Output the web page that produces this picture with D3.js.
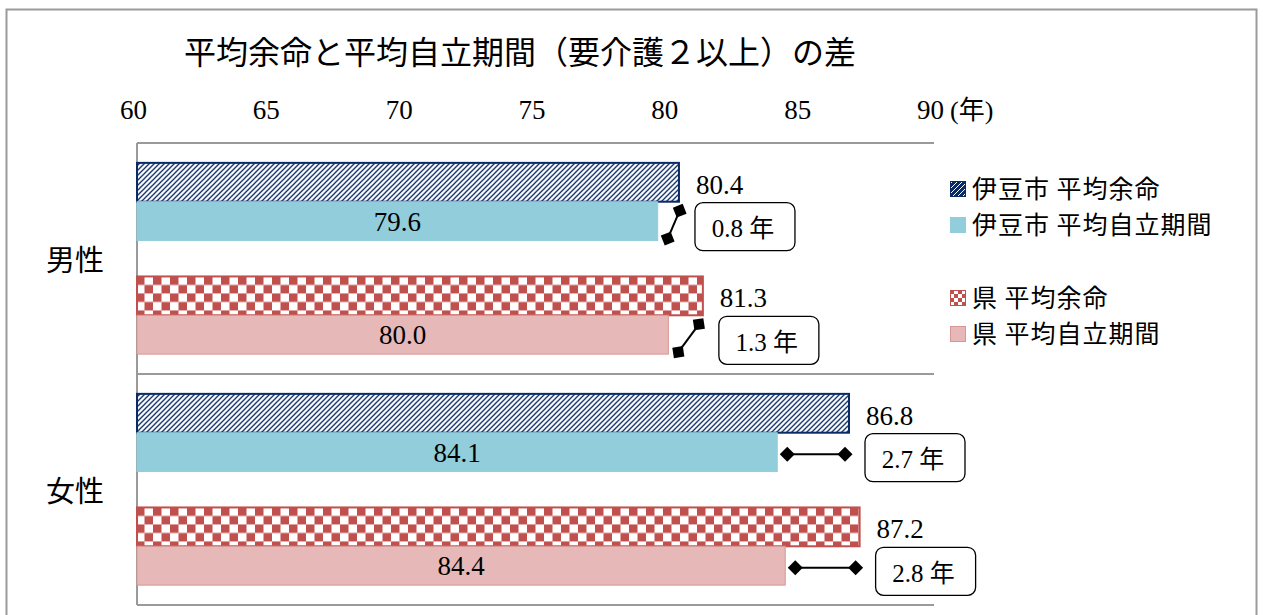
<!DOCTYPE html>
<html>
<head>
<meta charset="utf-8">
<script src="https://cdn.jsdelivr.net/npm/d3@7"></script>
<style>
  body { margin: 0; background: #fff; }
  text { fill: #000; }
</style>
</head>
<body>
<div id="plot"></div>
<script>
// data
const categories = ["男性", "女性"];
const groups = ["伊豆市", "県"];
const measures = ["平均余命", "平均自立期間"];
const izuLife = [80.4, 86.8];
const izuIndep = [79.6, 84.1];
const kenLife = [81.3, 87.2];
const kenIndep = [80.0, 84.4];
const ticks = [60, 65, 70, 75, 80, 85, 90];

const w = 1263;
const h = 615;
const numFont = "'Liberation Serif', 'Noto Sans CJK JP', serif";
const jpFont = "'Noto Sans CJK JP', sans-serif";

const svg = d3.select("div#plot")
    .append("svg")
    .attr("width", w)
    .attr("height", h);

const defs = svg.append("defs");

// navy diagonal hatch
const hatch = defs.append("pattern")
    .attr("id", "hatch")
    .attr("patternUnits", "userSpaceOnUse")
    .attr("width", 5)
    .attr("height", 5);
hatch.append("rect").attr("width", 5).attr("height", 5).attr("fill", "#fff");
hatch.append("path")
    .attr("d", "M-1,1 L1,-1 M0,5 L5,0 M4,6 L6,4")
    .attr("stroke", "#0a2a66")
    .attr("stroke-width", 1.3);

const hatchLegend = defs.append("pattern")
    .attr("id", "hatchLegend")
    .attr("patternUnits", "userSpaceOnUse")
    .attr("width", 5)
    .attr("height", 5);
hatchLegend.append("rect").attr("width", 5).attr("height", 5).attr("fill", "#0a2a66");
hatchLegend.append("path")
    .attr("d", "M-1,1 L1,-1 M0,5 L5,0 M4,6 L6,4")
    .attr("stroke", "#fff")
    .attr("stroke-width", 1);

function checker(id, size) {
  const p = defs.append("pattern")
      .attr("id", id)
      .attr("patternUnits", "userSpaceOnUse")
      .attr("width", size * 2)
      .attr("height", size * 2);
  p.append("rect").attr("width", size * 2).attr("height", size * 2).attr("fill", "#fff");
  p.append("rect").attr("width", size).attr("height", size).attr("fill", "#c0504d");
  p.append("rect").attr("x", size).attr("y", size).attr("width", size).attr("height", size).attr("fill", "#c0504d");
}
checker("checker", 8.5);
checker("checkerLegend", 4);

defs.append("marker")
    .attr("id", "diamond")
    .attr("viewBox", "-8 -8 16 16")
    .attr("markerUnits", "userSpaceOnUse")
    .attr("markerWidth", 16)
    .attr("markerHeight", 16)
    .attr("orient", "auto")
  .append("path")
    .attr("d", "M-7.5,0 L0,-7.5 L7.5,0 L0,7.5 Z")
    .attr("fill", "#000");

// outer frame
svg.append("rect")
    .attr("x", 6.5)
    .attr("y", 9.5)
    .attr("width", 1250)
    .attr("height", 640)
    .attr("fill", "none")
    .attr("stroke", "#9a9a9a")
    .attr("stroke-width", 2);

svg.append("text")
    .attr("x", 520)
    .attr("y", 53)
    .attr("dy", "0.35em")
    .attr("text-anchor", "middle")
    .style("font-family", jpFont)
    .style("font-size", "32px")
    .text("平均余命と平均自立期間（要介護２以上）の差");

const xScale = d3.scaleLinear()
    .domain([60, 90])
    .range([137, 934]);

const yCat = d3.scaleBand()
    .domain(categories)
    .range([143, 605]);

const yGroup = d3.scaleBand()
    .domain(groups)
    .range([0, yCat.bandwidth()])
    .paddingInner(0.316)
    .paddingOuter(0.175);

const yMeasure = d3.scaleBand()
    .domain(measures)
    .range([0, yGroup.bandwidth()]);

// top axis labels
const xAxis = d3.axisTop(xScale)
    .tickValues(ticks)
    .tickSize(0)
    .tickPadding(0);

const axisG = svg.append("g")
    .attr("transform", "translate(-4, 119)")
    .call(xAxis);
axisG.select(".domain").remove();
axisG.selectAll("text")
    .style("font-family", numFont)
    .style("font-size", "27px")
    .attr("fill", "#000");

svg.append("text")
    .attr("x", xScale(90) + 16)
    .attr("y", 110)
    .attr("dy", "0.35em")
    .style("font-family", numFont)
    .style("font-size", "26px")
    .text("(年)");

// grid lines at category edges + left axis
const edges = [yCat.range()[0]].concat(categories.map(c => yCat(c) + yCat.bandwidth()));
svg.append("g")
  .selectAll("line")
  .data(edges)
  .enter().append("line")
    .attr("x1", xScale(60))
    .attr("x2", xScale(90))
    .attr("y1", d => d)
    .attr("y2", d => d)
    .attr("stroke", "#9a9a9a")
    .attr("stroke-width", 2);

svg.append("line")
    .attr("x1", xScale(60))
    .attr("x2", xScale(60))
    .attr("y1", yCat.range()[0])
    .attr("y2", yCat.range()[1])
    .attr("stroke", "#9a9a9a")
    .attr("stroke-width", 2);

svg.append("g")
  .selectAll("text")
  .data(categories)
  .enter().append("text")
    .attr("x", 75)
    .attr("y", d => yCat(d) + yCat.bandwidth() / 2 + 2)
    .attr("dy", "0.35em")
    .attr("text-anchor", "middle")
    .style("font-family", jpFont)
    .style("font-size", "29px")
    .text(d => d);

// rows: one per category x group
const rows = [];
categories.forEach((c, i) => {
  rows.push({cat: c, group: "伊豆市", life: izuLife[i], indep: izuIndep[i]});
  rows.push({cat: c, group: "県", life: kenLife[i], indep: kenIndep[i]});
});

const lifeStyle = {
  "伊豆市": {fill: "url(#hatch)", stroke: "#0a2a66", width: 2},
  "県": {fill: "url(#checker)", stroke: "#c0504d", width: 2}
};
const indepStyle = {
  "伊豆市": {fill: "#92cddc", stroke: "#92cddc", width: 1},
  "県": {fill: "#e6b8b7", stroke: "#d99694", width: 1}
};

const rowG = svg.append("g")
  .selectAll("g")
  .data(rows)
  .enter().append("g")
    .attr("transform", d => `translate(0, ${yCat(d.cat) + yGroup(d.group)})`);

const bh = yMeasure.bandwidth();

rowG.append("rect")
    .attr("x", xScale(60))
    .attr("y", yMeasure("平均余命"))
    .attr("width", d => xScale(d.life) - xScale(60))
    .attr("height", bh)
    .attr("fill", d => lifeStyle[d.group].fill)
    .attr("stroke", d => lifeStyle[d.group].stroke)
    .attr("stroke-width", d => lifeStyle[d.group].width);

rowG.append("rect")
    .attr("x", xScale(60))
    .attr("y", yMeasure("平均自立期間"))
    .attr("width", d => xScale(d.indep) - xScale(60))
    .attr("height", bh)
    .attr("fill", d => indepStyle[d.group].fill)
    .attr("stroke", d => indepStyle[d.group].stroke)
    .attr("stroke-width", d => indepStyle[d.group].width);

rowG.append("text")
    .attr("x", d => xScale(d.life) + 17)
    .attr("y", yMeasure("平均余命") + bh / 2 + 2)
    .attr("dy", "0.35em")
    .style("font-family", numFont)
    .style("font-size", "27px")
    .text(d => d.life.toFixed(1));

rowG.append("text")
    .attr("x", d => (xScale(60) + xScale(d.indep)) / 2)
    .attr("y", yMeasure("平均自立期間") + bh / 2)
    .attr("dy", "0.35em")
    .attr("text-anchor", "middle")
    .style("font-family", numFont)
    .style("font-size", "27px")
    .text(d => d.indep.toFixed(1));

// gap connector
rowG.append("line")
    .each(function(d) {
      const x1 = xScale(d.indep) + 10;
      const x2 = Math.max(xScale(d.life) - 4, x1 + 12);
      const top = yMeasure("平均自立期間");
      const narrow = xScale(d.life) - xScale(d.indep) < 40;
      d3.select(this)
          .attr("x1", x1)
          .attr("x2", x2)
          .attr("y1", narrow ? top + bh - 2 : top + bh / 2 + 2)
          .attr("y2", narrow ? top + 9 : top + bh / 2 + 2);
    })
    .attr("stroke", "#000")
    .attr("stroke-width", 2)
    .attr("marker-start", "url(#diamond)")
    .attr("marker-end", "url(#diamond)");

// gap boxes
rowG.append("rect")
    .attr("x", d => xScale(d.life) + 16)
    .attr("y", yMeasure("平均自立期間") + 1)
    .attr("width", 100)
    .attr("height", 48)
    .attr("rx", 8)
    .attr("fill", "#fff")
    .attr("stroke", "#000")
    .attr("stroke-width", 1.3);

rowG.append("text")
    .attr("x", d => xScale(d.life) + 64)
    .attr("y", yMeasure("平均自立期間") + 27)
    .attr("dy", "0.35em")
    .attr("text-anchor", "middle")
    .style("font-family", numFont)
    .style("font-size", "25px")
    .text(d => (d.life - d.indep).toFixed(1) + " 年");

// legend
const legendItems = [];
groups.forEach((g, gi) => {
  measures.forEach((m, mi) => {
    let fill;
    if (mi === 0) fill = g === "伊豆市" ? "url(#hatchLegend)" : "url(#checkerLegend)";
    else fill = indepStyle[g].fill;
    const stroke = mi === 0 ? lifeStyle[g].stroke : indepStyle[g].stroke;
    legendItems.push({label: g + " " + m, y: 189 + gi * 109 + mi * 36, fill: fill, stroke: stroke});
  });
});

const legend = svg.append("g")
  .selectAll("g")
  .data(legendItems)
  .enter().append("g")
    .attr("transform", d => `translate(950, ${d.y})`);

legend.append("rect")
    .attr("x", 0.5)
    .attr("y", -7.5)
    .attr("width", 15)
    .attr("height", 15)
    .attr("fill", d => d.fill)
    .attr("stroke", d => d.stroke)
    .attr("stroke-width", 1);

legend.append("text")
    .attr("x", 22)
    .attr("y", 0)
    .attr("dy", "0.35em")
    .style("font-family", jpFont)
    .style("font-size", "25px")
    .style("letter-spacing", "1px")
    .text(d => d.label);
</script>
</body>
</html>
